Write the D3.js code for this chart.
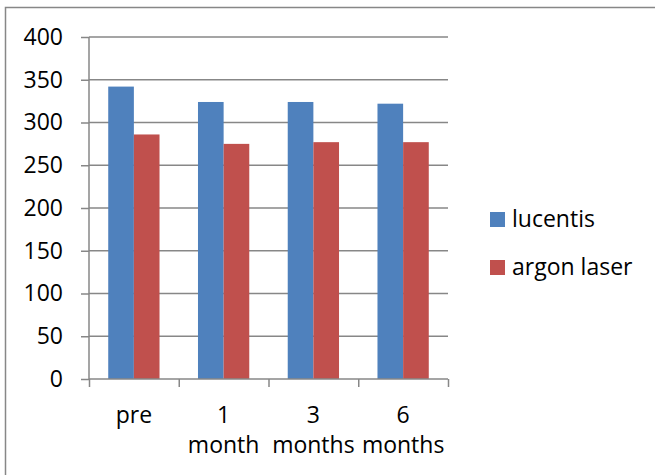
<!DOCTYPE html>
<html>
<head>
<meta charset="utf-8">
<script src="https://cdn.jsdelivr.net/npm/d3@7"></script>
<style>
  html, body { margin: 0; padding: 0; background: #fff; }
  svg { display: block; }
  text { font-family: "Open Sans", Lato, sans-serif; fill: #000; }
</style>
</head>
<body>
<svg id="chart" width="655" height="475"></svg>
<script>
// Chart data
const categories = ["pre", "1\nmonth", "3\nmonths", "6\nmonths"];
const seriesNames = ["lucentis", "argon laser"];
const lucentis = [342, 324, 324, 322];
const argonLaser = [286, 275, 277, 277];
const yTicks = [0, 50, 100, 150, 200, 250, 300, 350, 400];
const seriesColors = ["#4F81BD", "#C0504D"];

const seriesValues = [lucentis, argonLaser];
const rows = categories.map((c, i) => ({
  category: c,
  values: seriesNames.map((s, j) => ({ series: s, value: seriesValues[j][i], color: seriesColors[j] }))
}));

const svg = d3.select("#chart");
const gridColor = "#878787";
const fontFamily = "'Open Sans', Lato, sans-serif";
const fontSize = 23;

// Outer chart border (left and top edges visible)
svg.append("path")
  .attr("d", "M5.5,480 L5.5,7.5 L660,7.5")
  .attr("fill", "none")
  .attr("stroke", gridColor)
  .attr("stroke-width", 1.5);

const plot = { left: 89, right: 448, top: 37, bottom: 379 };

const y = d3.scaleLinear().domain([0, 400]).range([plot.bottom, plot.top]);
const x0 = d3.scaleBand().domain(categories).range([plot.left, plot.right]).padding(0);
const x1 = d3.scaleBand().domain(seriesNames).range([0, x0.bandwidth()])
  .paddingInner(0).paddingOuter(0.75);

// Horizontal gridlines
svg.append("g")
  .selectAll("line")
  .data(yTicks.filter(t => t > 0))
  .join("line")
  .attr("x1", plot.left)
  .attr("x2", plot.right)
  .attr("y1", d => y(d))
  .attr("y2", d => y(d))
  .attr("stroke", gridColor)
  .attr("stroke-width", 1.5);

// Bars
const groups = svg.append("g")
  .selectAll("g")
  .data(rows)
  .join("g")
  .attr("transform", d => `translate(${x0(d.category)},0)`);

groups.selectAll("rect")
  .data(d => d.values)
  .join("rect")
  .attr("x", d => x1(d.series))
  .attr("width", x1.bandwidth())
  .attr("y", d => y(d.value))
  .attr("height", d => y(0) - y(d.value))
  .attr("fill", d => d.color);

// Y axis
const yAxis = svg.append("g")
  .attr("transform", `translate(${plot.left},0)`)
  .call(d3.axisLeft(y).tickValues(yTicks).tickSize(8).tickPadding(18));
yAxis.select(".domain").attr("stroke", gridColor).attr("stroke-width", 1.5)
  .attr("d", `M0,${plot.top}V${plot.bottom}`);
yAxis.selectAll(".tick line").attr("stroke", gridColor).attr("stroke-width", 1.5);
yAxis.selectAll(".tick text")
  .attr("font-size", fontSize)
  .attr("font-family", fontFamily)
  .attr("fill", "#000");

// X axis: tick marks sit on category boundaries
const xBound = d3.scaleLinear().domain([0, categories.length]).range([plot.left, plot.right]);
const xAxis = svg.append("g")
  .attr("transform", `translate(0,${plot.bottom})`)
  .call(d3.axisBottom(xBound).tickValues(d3.range(categories.length + 1)).tickSize(8).tickFormat(""));
xAxis.select(".domain").attr("stroke", gridColor).attr("stroke-width", 1.5)
  .attr("d", `M${plot.left},0H${plot.right}`);
xAxis.selectAll(".tick line").attr("stroke", gridColor).attr("stroke-width", 1.5);

// Category labels, wrapped onto two lines
const catLabels = svg.append("g")
  .selectAll("text")
  .data(categories)
  .join("text")
  .attr("text-anchor", "middle")
  .attr("font-size", fontSize)
  .attr("transform", d => `translate(${x0(d) + x0.bandwidth() / 2},423)`);
catLabels.selectAll("tspan")
  .data(d => d.split("\n"))
  .join("tspan")
  .attr("x", 0)
  .attr("y", (d, i) => i * 30)
  .text(d => d);

// Legend
const legend = svg.append("g")
  .selectAll("g")
  .data(seriesNames)
  .join("g")
  .attr("transform", (d, i) => `translate(490,${212 + i * 48})`);
legend.append("rect")
  .attr("width", 15)
  .attr("height", 15)
  .attr("fill", (d, i) => seriesColors[i]);
legend.append("text")
  .attr("x", 22)
  .attr("y", 15)
  .attr("font-size", fontSize)
  .text(d => d);
</script>
</body>
</html>
